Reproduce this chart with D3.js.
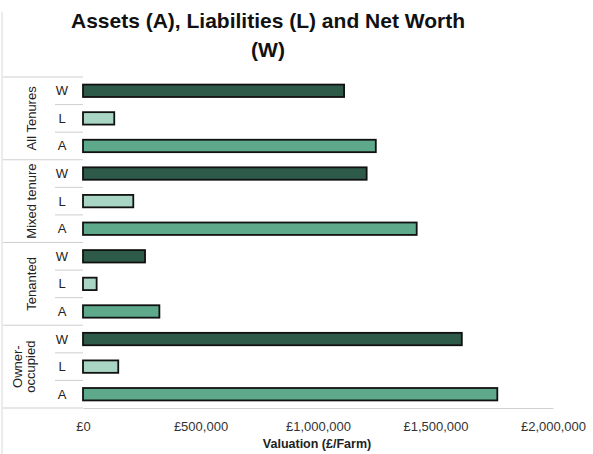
<!DOCTYPE html>
<html>
<head>
<meta charset="utf-8">
<script src="https://cdn.jsdelivr.net/npm/d3@7"></script>
<style>
  html, body { margin: 0; padding: 0; background: #fff; }
  svg { display: block; font-family: "Liberation Sans", Arial, sans-serif; }
</style>
</head>
<body>
<svg id="chart" width="593" height="454"></svg>
<script>
// Tenure groups, top to bottom, and the three measures inside each group
const groups = ["All Tenures", "Mixed tenure", "Tenanted", "Owner-occupied"];
const groupLines = [["All Tenures"], ["Mixed tenure"], ["Tenanted"], ["Owner-", "occupied"]];
const measures = ["W", "L", "A"];

// Valuation per farm (£), one array per measure, in group order
const netWorth    = [1111000, 1207000, 264000, 1612000];
const liabilities = [133000, 214000, 58000, 150000];
const assets      = [1246000, 1420000, 325000, 1763000];

const xTicks = [0, 500000, 1000000, 1500000, 2000000];

const seriesByMeasure = { W: netWorth, L: liabilities, A: assets };
const colours = { W: "#2e5a4a", L: "#a9d6c4", A: "#5ea88b" };

const rows = [];
groups.forEach((g, gi) => {
  measures.forEach(m => rows.push({ group: g, measure: m, key: g + "|" + m, value: seriesByMeasure[m][gi] }));
});

const svg = d3.select("#chart");
const plotLeft = 83, plotRight = 553, plotTop = 77, plotBottom = 408;

const x = d3.scaleLinear().domain([0, 2000000]).range([plotLeft, plotRight]);
const y = d3.scaleBand().domain(rows.map(r => r.key)).range([plotTop, plotBottom]).paddingInner(0.55).paddingOuter(0.275);

// Title
const title = svg.append("text")
  .attr("x", 268).attr("y", 28)
  .attr("text-anchor", "middle")
  .attr("font-weight", "bold").attr("font-size", 21).attr("fill", "#111");
title.append("tspan").attr("x", 268).text("Assets (A), Liabilities (L) and Net Worth");
title.append("tspan").attr("x", 268).attr("dy", 29).text("(W)");

// Faint frame edge on the left
svg.append("line")
  .attr("x1", 2).attr("x2", 2).attr("y1", 12).attr("y2", 454)
  .attr("stroke", "#d8d8d8").attr("stroke-width", 1);

// Category table on the left
const step = y.step();
const groupSpan = step * 3;
const rowTop = key => y(key) - step * y.paddingInner() / 2;

groups.forEach((g, gi) => {
  const gTop = plotTop + gi * groupSpan;
  svg.append("line")
    .attr("x1", 3).attr("x2", plotLeft).attr("y1", gTop).attr("y2", gTop)
    .attr("stroke", "#cfcfcf").attr("stroke-width", 1);
  const cy = gTop + groupSpan / 2;
  const lines = groupLines[gi];
  const t = svg.append("text")
    .attr("transform", `translate(${lines.length > 1 ? 31 : 31},${cy}) rotate(-90)`)
    .attr("text-anchor", "middle")
    .attr("font-size", 13).attr("fill", "#222");
  lines.forEach((ln, li) => {
    t.append("tspan")
      .attr("x", 0)
      .attr("dy", li === 0 ? (lines.length > 1 ? -9 : 4.5) : 13)
      .text(ln);
  });
});
svg.append("line")
  .attr("x1", 3).attr("x2", plotLeft).attr("y1", plotBottom).attr("y2", plotBottom)
  .attr("stroke", "#cfcfcf").attr("stroke-width", 1);

rows.forEach((r, i) => {
  if (i % 3 !== 0) {
    const yy = rowTop(r.key);
    svg.append("line")
      .attr("x1", 55).attr("x2", plotLeft).attr("y1", yy).attr("y2", yy)
      .attr("stroke", "#cfcfcf").attr("stroke-width", 1);
  }
  svg.append("text")
    .attr("x", 62).attr("y", y(r.key) + y.bandwidth() / 2 + 4.5)
    .attr("text-anchor", "middle")
    .attr("font-size", 13).attr("fill", "#222")
    .text(r.measure);
});

// Bars
svg.append("g").selectAll("rect").data(rows).join("rect")
  .attr("x", x(0))
  .attr("y", d => y(d.key))
  .attr("width", d => x(d.value) - x(0))
  .attr("height", y.bandwidth())
  .attr("fill", d => colours[d.measure])
  .attr("stroke", "#111").attr("stroke-width", 1.8);

// X axis
const fmt = v => "£" + d3.format(",")(v);
const axis = svg.append("g")
  .attr("transform", `translate(0,${plotBottom})`)
  .call(d3.axisBottom(x).tickValues(xTicks).tickFormat(fmt).tickSize(0).tickPadding(14));
axis.select(".domain").attr("stroke", "#d0d0d0");
axis.selectAll("text").attr("font-size", 13).attr("fill", "#333")
  .attr("font-family", "Liberation Sans, Arial, sans-serif");

svg.append("text")
  .attr("x", 317).attr("y", 448)
  .attr("text-anchor", "middle")
  .attr("font-weight", "bold").attr("font-size", 12.5).attr("fill", "#222")
  .text("Valuation (£/Farm)");
</script>
</body>
</html>
